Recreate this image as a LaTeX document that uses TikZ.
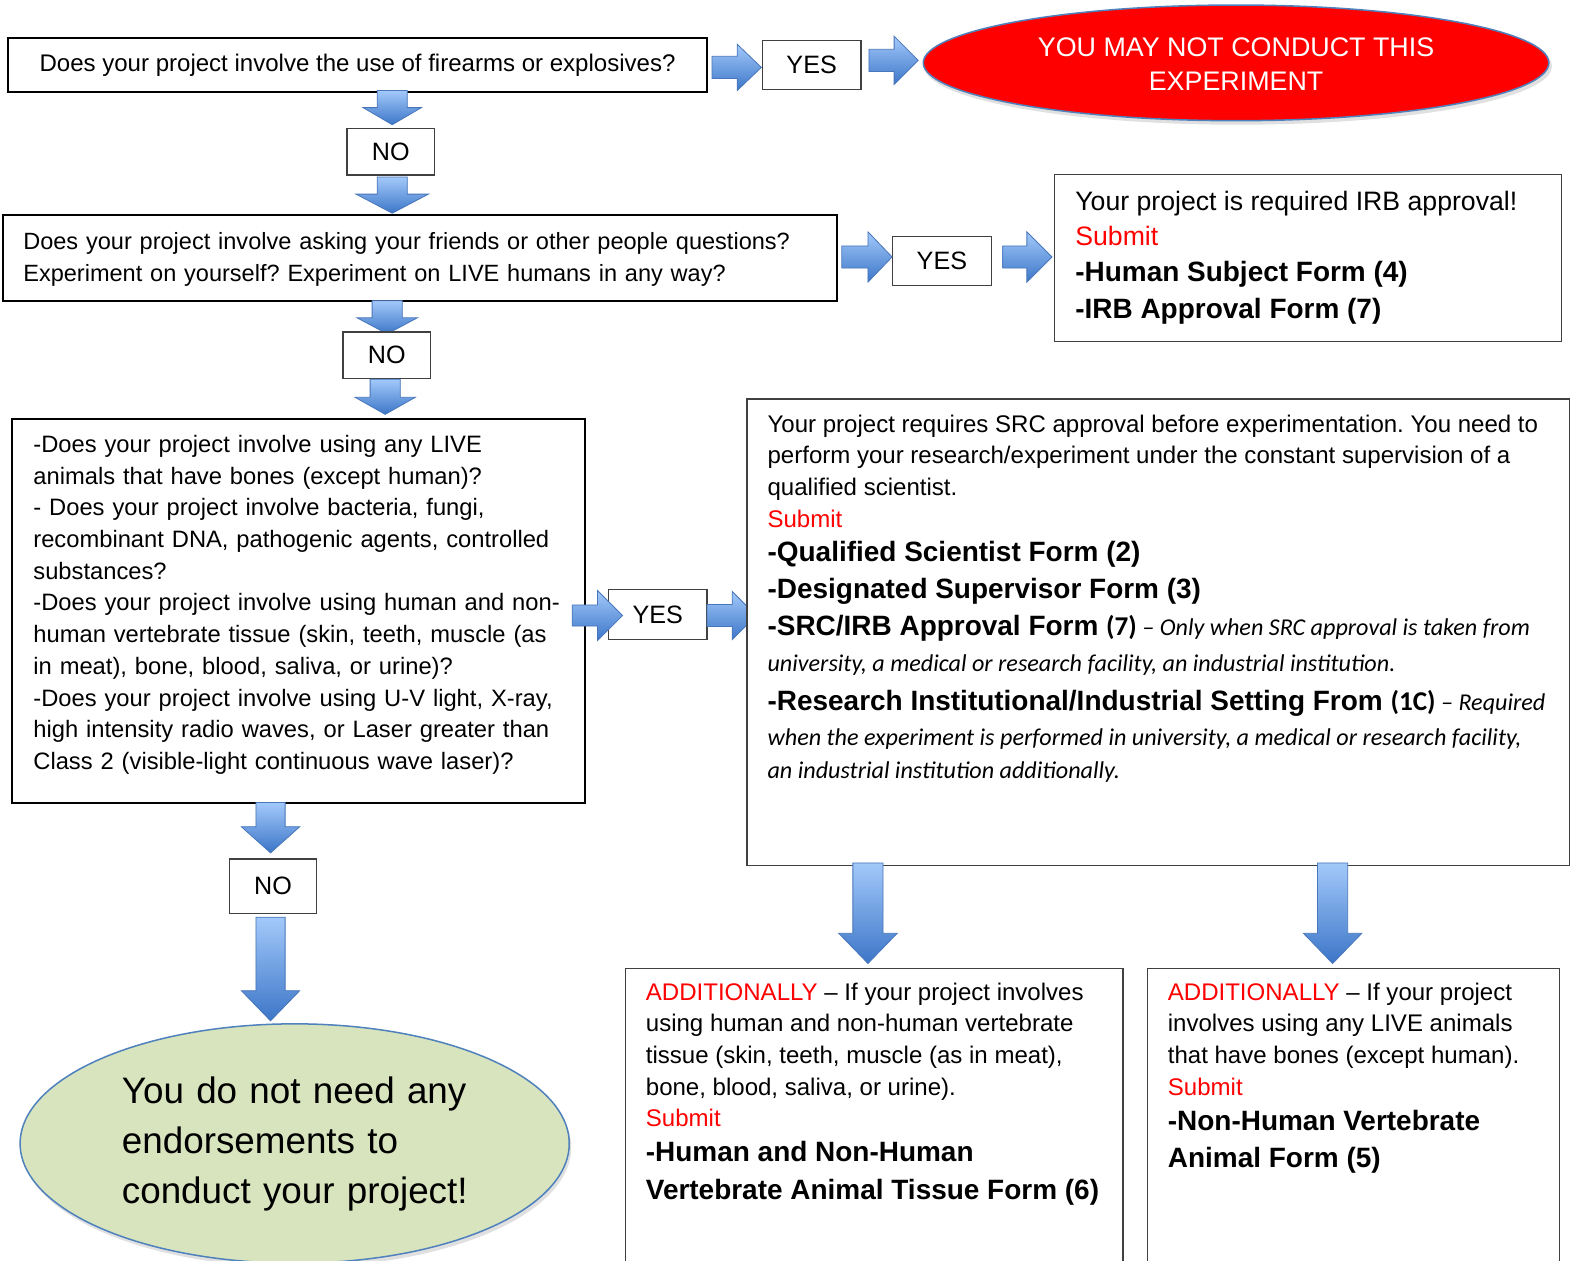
\documentclass[tikz,border=0pt]{standalone}
\usepackage{fontspec}
\setmainfont{Liberation Sans}
\newfontfamily\calfont{Carlito}
\usetikzlibrary{calc,shapes.geometric}
\definecolor{arrtop}{RGB}{163,201,250}
\definecolor{arrbot}{RGB}{60,118,200}
\definecolor{arrline}{RGB}{72,118,186}
\definecolor{boxgray}{RGB}{64,64,64}
\definecolor{greenfill}{RGB}{215,228,189}
\definecolor{ellline}{RGB}{79,129,189}
\newcommand\fs[2]{\fontsize{#1}{#2}\selectfont}
\newcommand\reg{\fs{23.9}{28}}
\newcommand\bld{\fs{27.8}{32}\bfseries}
\newcommand\itl{\calfont\itshape\fs{24}{28}}
\newcommand\calb{\calfont\bfseries\fs{27}{32}}
% horizontal block arrow: xtail, xheadstart, xtip, ycenter, headhalf, shafthalf
\newcommand\harrow[6]{\draw[barrow] ({#1},{#4-#6}) -- ({#2},{#4-#6}) -- ({#2},{#4-#5}) -- ({#3},{#4}) -- ({#2},{#4+#5}) -- ({#2},{#4+#6}) -- ({#1},{#4+#6}) -- cycle;}
% vertical block arrow: xcenter, ytail, yheadstart, ytip, headhalf, shafthalf
\newcommand\varrow[6]{\draw[barrow] ({#1-#6},{#2}) -- ({#1-#6},{#3}) -- ({#1-#5},{#3}) -- ({#1},{#4}) -- ({#1+#5},{#3}) -- ({#1+#6},{#3}) -- ({#1+#6},{#2}) -- cycle;}
\begin{document}
\frenchspacing
\begin{tikzpicture}[x=1pt,y=-1pt,
  barrow/.style={draw=arrline, line width=0.8pt, top color=arrtop, bottom color=arrbot},
  qbox/.style={draw=black, line width=2pt, fill=white, inner sep=0pt},
  ybox/.style={draw=boxgray, line width=1.3pt, fill=white, inner sep=0pt, font=\fs{25}{30}},
  ibox/.style={draw=boxgray, line width=1.3pt, fill=white, inner sep=0pt, anchor=north west},
  ln/.style={anchor=base west, inner sep=0pt}]
\useasboundingbox (0,0) rectangle (1568,1253);
\fill[white] (0,0) rectangle (1568,1253);

% ---- row 1
\node[qbox, minimum width=695, minimum height=53, font=\fs{23.9}{28}] (q1) at (355.5,64.5) {Does your project involve the use of firearms or explosives?};
\node[ybox, minimum width=98, minimum height=49] (y1) at (807,64.5) {YES};
\fill[black!12] (1231,66) ellipse [x radius=312, y radius=58];
\node[ellipse, draw=ellline, fill=red, line width=1.5pt, minimum width=622, minimum height=115] (stop) at (1229,62.5) {};
\node[font=\fs{26.7}{34}, text=white, align=center, inner sep=0pt] (stopt) at (1229,64) {YOU MAY NOT CONDUCT THIS\\EXPERIMENT};
\harrow{708}{733}{757}{67}{23}{11}
\harrow{864}{889}{913}{60}{24}{11}

% ---- row 2
\node[ybox, minimum width=87, minimum height=46] (n1) at (388.5,151) {NO};
\varrow{390}{90}{107}{124}{29}{15}
\varrow{390}{176}{193}{212}{36}{15}
\node[qbox, minimum width=829, minimum height=85] (q2) at (417.5,256.5) {};
\node[ln, text width=800, align=left, font=\fs{23.4}{32}] (q2t) at (23,248) {Does your project involve asking your friends or other people questions?\\Experiment on yourself? Experiment on LIVE humans in any way?};
\node[ybox, minimum width=98, minimum height=49] (y2) at (936.5,259.5) {YES};
\harrow{837}{863}{887}{255.5}{25}{11}
\harrow{997}{1021}{1046}{255.5}{25}{11}
\node[ibox, minimum width=504, minimum height=166] (irb) at (1048,173) {};
\node[ln, font=\fs{26.5}{30}] (irb1) at (1069,209) {Your project is required IRB approval!};
\node[ln, font=\fs{26.5}{30}, text=red] (irb2) at (1069,244.5) {Submit};
\node[ln, font=\bld] (irb3) at (1069,280) {-Human Subject Form (4)};
\node[ln, font=\bld] (irb4) at (1069,317) {-IRB Approval Form (7)};

% ---- row 3
\varrow{385}{299}{316}{332}{30}{15}
\node[ybox, minimum width=87, minimum height=46] (n2) at (384.5,353) {NO};
\varrow{383}{377}{395}{412}{30}{15}
\node[qbox, minimum width=570, minimum height=381] (q3) at (297,607.5) {};
\node[ln, text width=545, align=left, font=\fs{23.6}{31.5}] (q3t) at (33,450) {-Does your project involve using any LIVE\\animals that have bones (except human)?\\- Does your project involve bacteria, fungi,\\recombinant DNA, pathogenic agents, controlled\\substances?\\-Does your project involve using human and non-\\human vertebrate tissue (skin, teeth, muscle (as\\in meat), bone, blood, saliva, or urine)?\\-Does your project involve using U-V light, X-ray,\\high intensity radio waves, or Laser greater than\\Class 2 (visible-light continuous wave laser)?};
\node[ybox, minimum width=98, minimum height=50] (y3) at (654,611) {YES};
\harrow{569}{594}{619}{612}{25}{10.5}
\harrow{703}{728}{752}{612}{24}{11}
\node[ibox, minimum width=818, minimum height=464] (src) at (742,396) {};
\node[ln, font=\reg] (s1) at (763,430) {Your project requires SRC approval before experimentation. You need to};
\node[ln, font=\reg] (s2) at (763,461) {perform your research/experiment under the constant supervision of a};
\node[ln, font=\reg] (s3) at (763,493) {qualified scientist.};
\node[ln, font=\reg, text=red] (s4) at (763,524) {Submit};
\node[ln, font=\bld] (s5) at (763,558) {-Qualified Scientist Form (2)};
\node[ln, font=\bld] (s6) at (763,595) {-Designated Supervisor Form (3)};
\node[ln] (s7) at (763,632) {{\bld -SRC/IRB Approval Form }{\calb (7)}{\itl\ – Only when SRC approval is taken from}};
\node[ln, font=\itl] (s8) at (763,668) {university, a medical or research facility, an industrial institution.};
\node[ln] (s9) at (763,706) {{\bld -Research Institutional/Industrial Setting From }{\calb (1C)}{\itl\ – Required}};
\node[ln, font=\itl] (s10) at (763,741) {when the experiment is performed in university, a medical or research facility,};
\node[ln, font=\itl] (s11) at (763,774) {an industrial institution additionally.};

% ---- bottom
\varrow{269}{798}{822}{848}{29}{14.5}
\node[ybox, minimum width=87, minimum height=54] (n3) at (271.5,881) {NO};
\varrow{269}{912}{985}{1015}{29}{14.5}
\fill[black!12] (295,1141) ellipse [x radius=273, y radius=119];
\node[ellipse, draw=ellline, fill=greenfill, line width=1.5pt, minimum width=546, minimum height=238] (done) at (293,1137) {};
\node[ln, text width=420, align=left, font=\fs{36.6}{50}] (donet) at (121,1097) {You do not need any\\endorsements to\\conduct your project!};

\node[ibox, minimum width=495, minimum height=340] (bl) at (621,962) {};
\node[ln, font=\reg] (b1) at (642,995) {\textcolor{red}{ADDITIONALLY} – If your project involves};
\node[ln, font=\reg] (b2) at (642,1026) {using human and non-human vertebrate};
\node[ln, font=\reg] (b3) at (642,1057) {tissue (skin, teeth, muscle (as in meat),};
\node[ln, font=\reg] (b4) at (642,1089) {bone, blood, saliva, or urine).};
\node[ln, font=\reg, text=red] (b5) at (642,1120) {Submit};
\node[ln, font=\bld] (b6) at (642,1155) {-Human and Non-Human};
\node[ln, font=\bld] (b7) at (642,1193) {Vertebrate Animal Tissue Form (6)};

\node[ibox, minimum width=410, minimum height=340] (br) at (1140,962) {};
\node[ln, font=\reg] (c1) at (1161,995) {\textcolor{red}{ADDITIONALLY} – If your project};
\node[ln, font=\reg] (c2) at (1161,1026) {involves using any LIVE animals};
\node[ln, font=\reg] (c3) at (1161,1057) {that have bones (except human).};
\node[ln, font=\reg, text=red] (c4) at (1161,1089) {Submit};
\node[ln, font=\bld] (c5) at (1161,1124) {-Non-Human Vertebrate};
\node[ln, font=\bld] (c6) at (1161,1161) {Animal Form (5)};

\varrow{863}{858}{928}{958}{29}{15}
\varrow{1325}{858}{928}{958}{29}{15}
\end{tikzpicture}
\end{document}
